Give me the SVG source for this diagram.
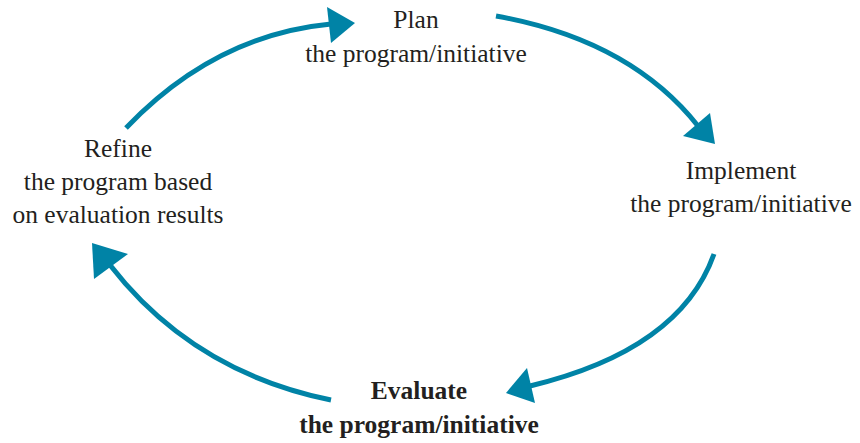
<svg xmlns="http://www.w3.org/2000/svg" width="860" height="443" viewBox="0 0 860 443">
  <style>
    .lbl { font-family: "Liberation Serif", "Times New Roman", serif; font-size: 25.5px; fill: #231f20; text-anchor: middle; }
    .bold { font-weight: bold; }
    .arc { fill: none; stroke: #0083a6; stroke-width: 5; stroke-linecap: butt; }
    .head { fill: #0083a6; }
  </style>
  <rect width="860" height="443" fill="#ffffff"/>
  <g id="connectors">
    <path class="arc" d="M126,128 Q215,35 331,24"/>
    <polygon class="head" points="355,23 327,7 331,43"/>
    <path class="arc" d="M496,16 Q630,40 698,126"/>
    <polygon class="head" points="715,144 683,136 710,113"/>
    <path class="arc" d="M714,254 Q680,350 530,386"/>
    <polygon class="head" points="506,393 527,368 535,403"/>
    <path class="arc" d="M331,400 Q193,372 110,265"/>
    <polygon class="head" points="92,243 94,279 128,254"/>
  </g>
  <g id="plan">
    <text class="lbl" x="416" y="28">Plan</text>
    <text class="lbl" x="416" y="62">the program/initiative</text>
  </g>
  <g id="implement">
    <text class="lbl" x="741" y="179">Implement</text>
    <text class="lbl" x="741" y="212">the program/initiative</text>
  </g>
  <g id="evaluate">
    <text class="lbl bold" x="419" y="399">Evaluate</text>
    <text class="lbl bold" x="419" y="433">the program/initiative</text>
  </g>
  <g id="refine">
    <text class="lbl" x="118" y="157">Refine</text>
    <text class="lbl" x="118" y="190">the program based</text>
    <text class="lbl" x="118" y="223">on evaluation results</text>
  </g>
</svg>
